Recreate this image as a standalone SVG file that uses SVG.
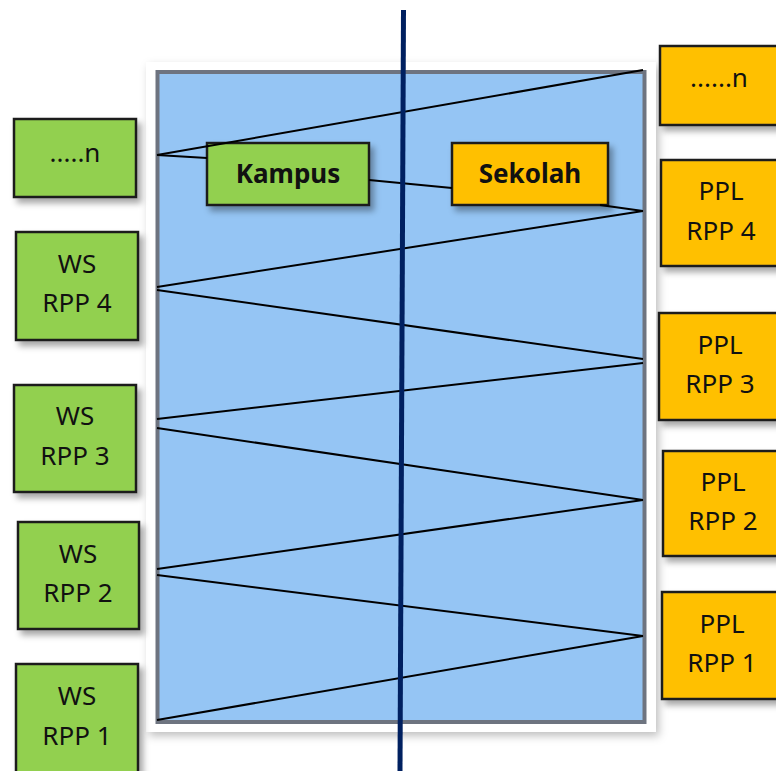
<svg xmlns="http://www.w3.org/2000/svg" width="776" height="771" viewBox="0 0 776 771">
<defs>
<filter id="sh" x="-20%" y="-20%" width="150%" height="150%">
<feDropShadow dx="4" dy="5" stdDeviation="3" flood-color="#000" flood-opacity="0.35"/>
</filter>
<filter id="fsh" x="-10%" y="-10%" width="120%" height="120%">
<feDropShadow dx="3" dy="4" stdDeviation="4" flood-color="#000" flood-opacity="0.25"/>
</filter>
</defs>
<style>
.g{fill:#92D050;stroke:#1c1c1c;stroke-width:2.5}
.o{fill:#FFC000;stroke:#1c1c1c;stroke-width:2.5}
.t{font-family:"Noto Sans","Open Sans",sans-serif;font-size:26px;fill:#111;text-anchor:middle}
.b{font-weight:bold;font-size:26px}
.c line{stroke:#000;stroke-width:2;fill:none}
</style>
<rect width="776" height="771" fill="#fff"/>
<g id="frame">
<rect x="146" y="62" width="510" height="670" fill="#fff" filter="url(#fsh)"/>
<rect x="157.5" y="72" width="487" height="650" fill="#95C5F4" stroke="#6e7480" stroke-width="4"/>
</g>
<g id="kampus"><rect class="g" x="207" y="143" width="162" height="62" filter="url(#sh)"/><text class="t b" x="288" y="183">Kampus</text></g>
<g id="sekolah"><rect class="o" x="452" y="143" width="156" height="62" filter="url(#sh)"/><text class="t b" x="530" y="183">Sekolah</text></g>
<g class="c" id="connectors">
<line x1="157" y1="155" x2="643" y2="70"/>
<line x1="157" y1="155" x2="207" y2="158"/>
<line x1="369" y1="180" x2="452" y2="188"/>
<line x1="600" y1="205" x2="643" y2="211"/>
<line x1="643" y1="211" x2="157" y2="287"/>
<line x1="157" y1="290" x2="643" y2="359"/>
<line x1="643" y1="363" x2="157" y2="419"/>
<line x1="157" y1="428" x2="643" y2="500"/>
<line x1="643" y1="500" x2="157" y2="569"/>
<line x1="157" y1="575" x2="643" y2="636"/>
<line x1="643" y1="636" x2="157" y2="720"/>
</g>
<g id="divider"><line x1="403.5" y1="10" x2="400" y2="771" stroke="#002060" stroke-width="5"/></g>
<g id="ws-n"><rect class="g" x="14" y="119" width="122" height="78" filter="url(#sh)"/><text class="t" x="75" y="162">.....n</text></g>
<g id="ws-rpp4"><rect class="g" x="16" y="232" width="122" height="108" filter="url(#sh)"/><text class="t" x="77" y="273">WS</text><text class="t" x="77" y="312">RPP 4</text></g>
<g id="ws-rpp3"><rect class="g" x="14" y="385" width="122" height="107" filter="url(#sh)"/><text class="t" x="75" y="425">WS</text><text class="t" x="75" y="465">RPP 3</text></g>
<g id="ws-rpp2"><rect class="g" x="18" y="522" width="121" height="107" filter="url(#sh)"/><text class="t" x="78" y="563">WS</text><text class="t" x="78" y="602">RPP 2</text></g>
<g id="ws-rpp1"><rect class="g" x="16" y="664" width="122" height="112" filter="url(#sh)"/><text class="t" x="77" y="705">WS</text><text class="t" x="77" y="745">RPP 1</text></g>
<g id="ppl-n"><rect class="o" x="660" y="46" width="120" height="79" filter="url(#sh)"/><text class="t" x="719" y="87">......n</text></g>
<g id="ppl-rpp4"><rect class="o" x="661" y="160" width="120" height="106" filter="url(#sh)"/><text class="t" x="721" y="200">PPL</text><text class="t" x="721" y="240">RPP 4</text></g>
<g id="ppl-rpp3"><rect class="o" x="659" y="313" width="120" height="107" filter="url(#sh)"/><text class="t" x="720" y="354">PPL</text><text class="t" x="720" y="393">RPP 3</text></g>
<g id="ppl-rpp2"><rect class="o" x="663" y="451" width="120" height="105" filter="url(#sh)"/><text class="t" x="723" y="491">PPL</text><text class="t" x="723" y="530">RPP 2</text></g>
<g id="ppl-rpp1"><rect class="o" x="662" y="592" width="120" height="107" filter="url(#sh)"/><text class="t" x="722" y="633">PPL</text><text class="t" x="722" y="672">RPP 1</text></g>
</svg>
